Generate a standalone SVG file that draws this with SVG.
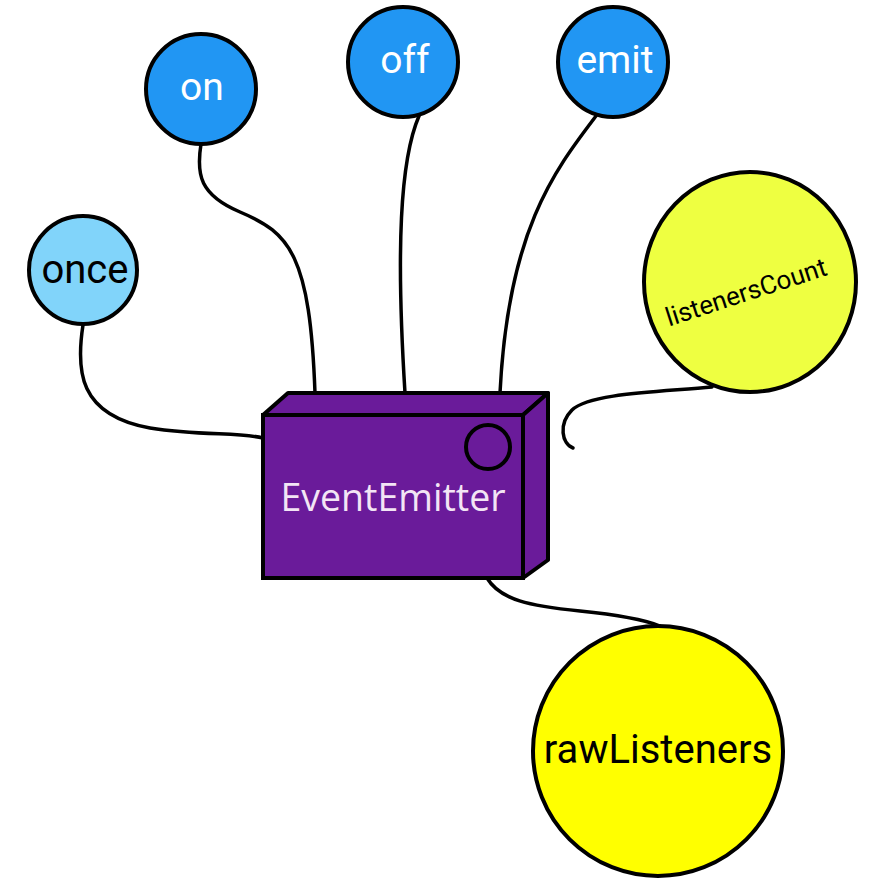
<svg xmlns="http://www.w3.org/2000/svg" width="869" height="878" viewBox="0 0 869 878">
<style>
.c{stroke:#000;stroke-width:4}
.l{fill:none;stroke:#000;stroke-width:3.5;stroke-linecap:round}
.t{font-family:Roboto,"Liberation Sans",sans-serif;text-anchor:middle;dominant-baseline:central}
.w{fill:#fff;font-size:39px}
</style>
<rect width="869" height="878" fill="#fff"/>
<g id="connectors">
<path class="l" d="M83 325 C76 370 78 415 150 428 C200 436 240 432 263 438"/>
<path class="l" d="M201 144 C196 175 200 195 240 212 C290 233 310 255 315 393"/>
<path class="l" d="M419 116 C400 160 396 250 405 393"/>
<path class="l" d="M596 116 C555 170 508 230 500 393"/>
<path class="l" d="M712 387 C660 392 590 393 572 410 C558 424 562 444 573 448"/>
<path class="l" d="M487 578 C500 600 530 606 580 611 C620 615 645 620 660 626"/>
</g>
<g id="once"><circle class="c" cx="83" cy="270" r="54" fill="#81d4fa"/><text class="t" x="85" y="269" font-size="40" fill="#000">once</text></g>
<g id="on"><circle class="c" cx="201" cy="89" r="55" fill="#2196f3"/><text class="t w" x="202" y="87">on</text></g>
<g id="off"><circle class="c" cx="403" cy="62" r="55" fill="#2196f3"/><text class="t w" x="405" y="60">off</text></g>
<g id="emit"><circle class="c" cx="613" cy="62" r="55" fill="#2196f3"/><text class="t w" x="615" y="60">emit</text></g>
<g id="listenersCount"><ellipse class="c" cx="750" cy="282" rx="106" ry="110" fill="#eeff41"/><text class="t" x="746" y="292" font-size="26" fill="#000" transform="rotate(-18 746 292)">listenersCount</text></g>
<g id="rawListeners"><circle class="c" cx="658" cy="751" r="125" fill="#ffff00"/><text class="t" x="658" y="749" font-size="40" fill="#000">rawListeners</text></g>
<g id="EventEmitter">
<polygon class="c" points="263,415 288,393 548,393 523,415" fill="#6a1b9a" stroke-linejoin="round"/>
<polygon class="c" points="523,415 548,393 548,560 523,578" fill="#6a1b9a" stroke-linejoin="round"/>
<rect class="c" x="263" y="415" width="260" height="163" fill="#6a1b9a"/>
<circle class="c" cx="488" cy="447" r="22" fill="#6a1b9a"/>
<text x="393" y="496" fill="#f3e5f5" style="font-family:'Open Sans',sans-serif;font-size:37.5px;text-anchor:middle;dominant-baseline:central">EventEmitter</text>
</g>
</svg>
